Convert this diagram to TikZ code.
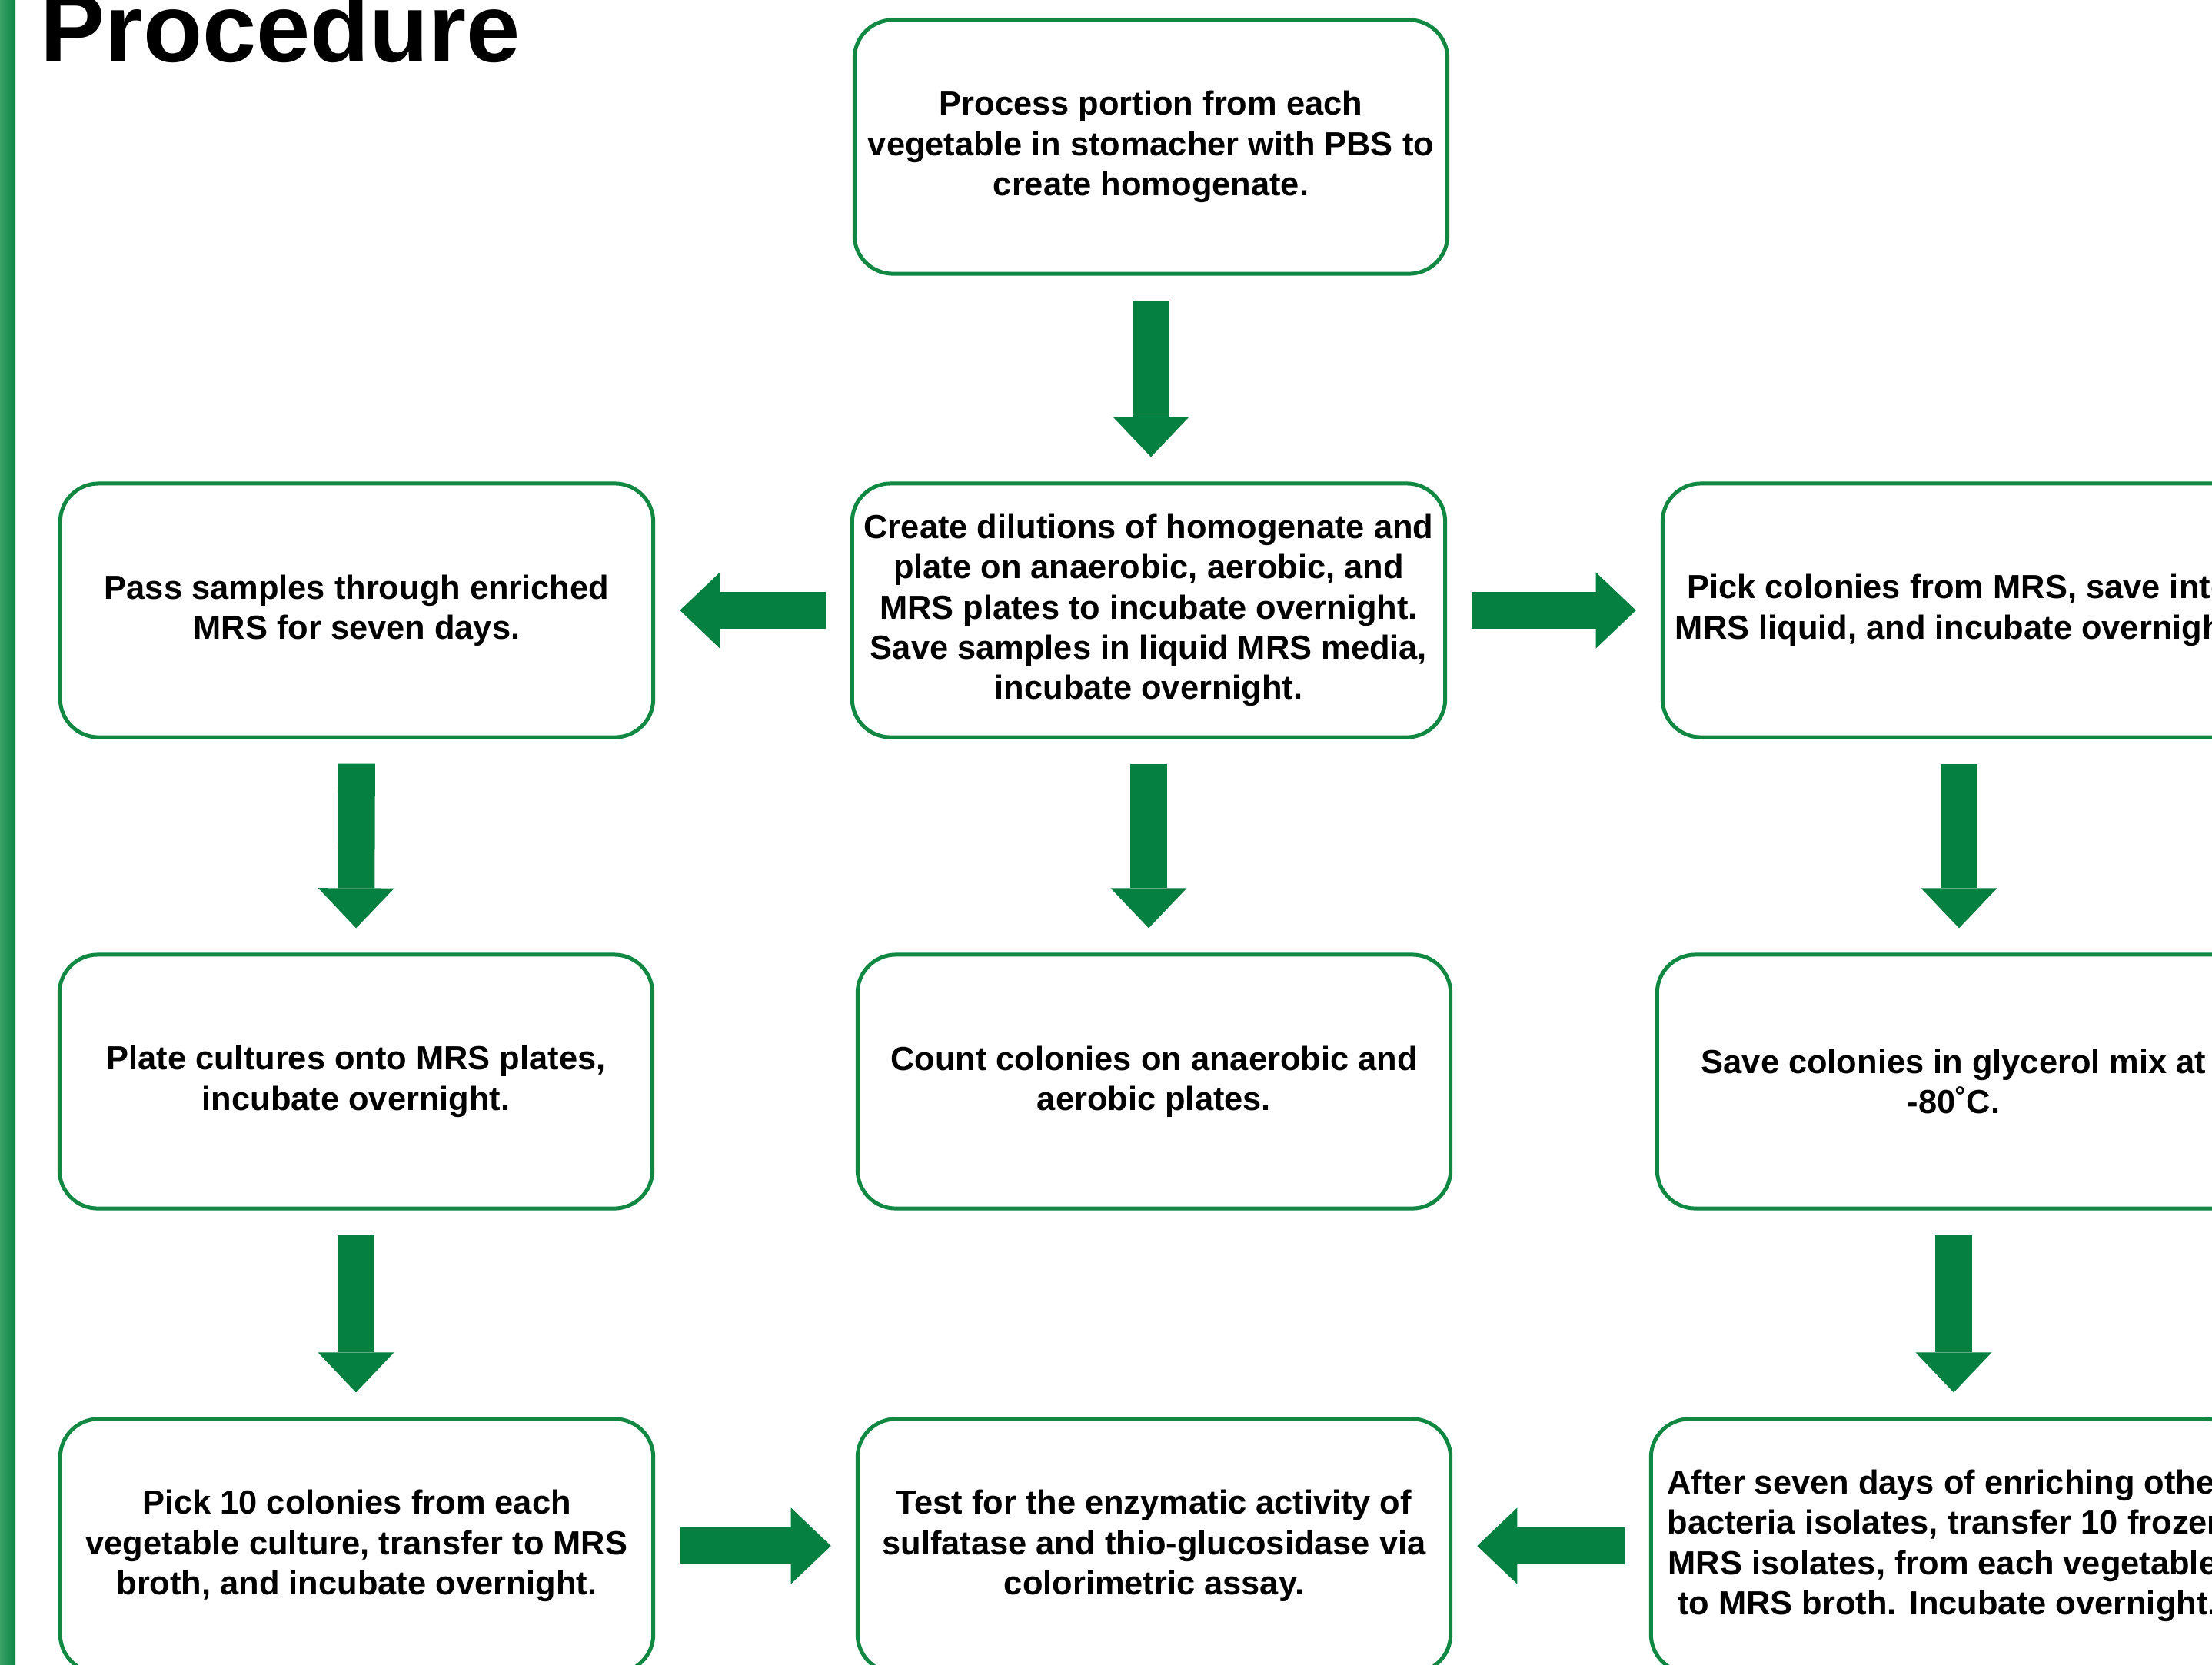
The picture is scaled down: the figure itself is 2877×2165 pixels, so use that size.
\documentclass[tikz,border=0pt]{standalone}
\usepackage{fontspec}
\setmainfont{Liberation Sans}
\usepackage{tikz}
\usetikzlibrary{arrows.meta}

\definecolor{boxgreen}{RGB}{16,136,66}
\definecolor{arrowgreen}{RGB}{6,128,64}
\definecolor{barlight}{RGB}{60,160,100}
\definecolor{bardark}{RGB}{10,134,70}

\begin{document}
\begin{tikzpicture}[
x=0.01cm, y=-0.01cm,
stepbox/.style={
  draw=boxgreen,
  line width=0.05cm,
  rounded corners=0.5cm,
  minimum width=7.71cm,
  minimum height=3.3cm,
  align=center,
  font=\fontsize{12.35}{14.9}\selectfont\bfseries
  },
bigarrow/.style={
  draw,
  color=arrowgreen,
  line width=0.48cm,
  -{Triangle[width=0.99cm,length=0.52cm,line width=0pt]},
  shorten <=0.32cm,
  shorten >=0.32cm
  }
]
\useasboundingbox (0,0) rectangle (2877,2165);
\clip (0,0) rectangle (2877,2165);
\shade[left color=barlight, right color=bardark] (0,0) rectangle (20,2165);
\node[anchor=base west, inner sep=0pt, font=\fontsize{35.9}{40}\selectfont\bfseries] (title) at (52,80) {Procedure};

% first column
\node[stepbox] (enrich) at (464,794) {Pass samples through enriched\\ MRS for seven days.};
\node[stepbox] (plate) at (463,1407) {Plate cultures onto MRS plates,\\ incubate overnight.};
\node[stepbox] (pick10) at (464,2011) {Pick 10 colonies from each\\ vegetable culture, transfer to MRS\\ broth, and incubate overnight.};
% middle column
\node[stepbox] (proc) at (1497,191) {Process portion from each\\ vegetable in stomacher with PBS to\\ create homogenate.};
\node[stepbox] (dilute) at (1494,794) {Create dilutions of homogenate and\\ plate on anaerobic, aerobic, and\\ MRS plates to incubate overnight.\\ Save samples in liquid MRS media,\\ incubate overnight.};
\node[stepbox] (count) at (1501,1407) {Count colonies on anaerobic and\\ aerobic plates.};
\node[stepbox] (assay) at (1501,2011) {Test for the enzymatic activity of\\ sulfatase and thio-glucosidase via\\ colorimetric assay.};
% last column
\node[stepbox] (pickmrs) at (2548,794) {Pick colonies from MRS, save into\\ MRS liquid, and incubate overnight.};
\node[stepbox] (glycerol) at (2541,1407) {Save colonies in glycerol mix at\\ -80˚C.};
\node[stepbox] (frozen) at (2533,2011) {After seven days of enriching other\\ bacteria isolates, transfer 10 frozen\\ MRS isolates, from each vegetable,\\ to MRS broth. Incubate overnight.};

\path[every edge/.style={bigarrow}]
  (proc.south) edge (proc.south |- dilute.north)
  (dilute.west) edge (enrich.east)
  (dilute.east) edge (pickmrs.west)
  (enrich.south) edge (plate.north)
  (dilute.south) edge (dilute.south |- count.north)
  (pickmrs.south) edge (pickmrs.south |- glycerol.north)
  (plate.south) edge (plate.south |- pick10.north)
  (glycerol.south) edge (glycerol.south |- frozen.north)
  (pick10.east) edge (assay.west)
  (frozen.west) edge (assay.east);
\end{tikzpicture}
\end{document}
